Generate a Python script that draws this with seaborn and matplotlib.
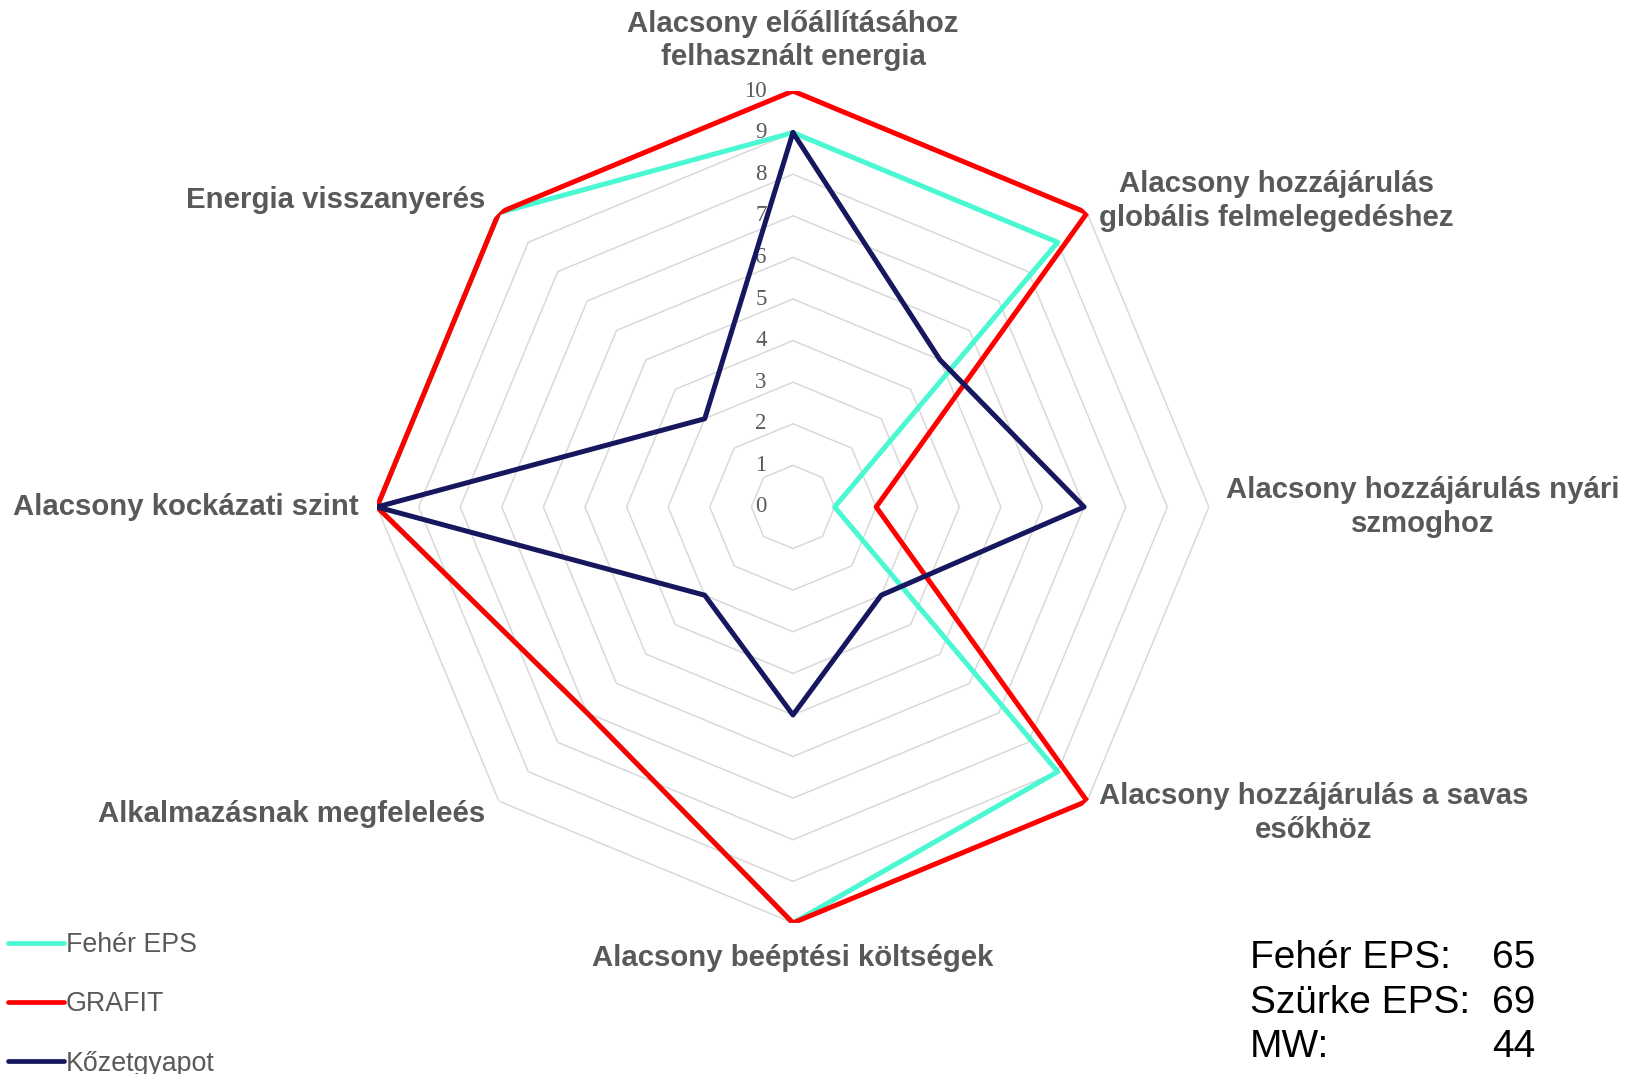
import numpy as np
import pandas as pd
import matplotlib

matplotlib.use("Agg")
import matplotlib.pyplot as plt
import seaborn as sns


CATEGORIES = [
    "Alacsony előállításához\nfelhasznált energia",
    "Alacsony hozzájárulás\nglobális felmelegedéshez",
    "Alacsony hozzájárulás nyári\nszmoghoz",
    "Alacsony hozzájárulás a savas\nesőkhöz",
    "Alacsony beéptési költségek",
    "Alkalmazásnak megfeleleés",
    "Alacsony kockázati szint",
    "Energia visszanyerés",
]
SERIES = ["Fehér EPS", "GRAFIT", "Kőzetgyapot"]
FEHER_EPS = [9, 9, 1, 9, 10, 7, 10, 10]
GRAFIT = [10, 10, 2, 10, 10, 7, 10, 10]
KOZETGYAPOT = [9, 5, 7, 3, 5, 3, 10, 3]
RING_LEVELS = list(range(0, 11))
SCORE_LABELS = ["Fehér EPS:", "Szürke EPS:", "MW:"]
SCORE_VALUES = [65, 69, 44]

COLORS = {"Fehér EPS": "#4AF8D2", "GRAFIT": "#FF0000", "Kőzetgyapot": "#16175E"}
TEXT_GRAY = "#595959"
GRID_GRAY = "#D9D9D9"

# label placement per axis: (radius, ha, va)
LABEL_PLACEMENT = [
    (10.48, "center", "bottom"),
    (10.4, "left", "center"),
    (10.4, "left", "center"),
    (10.4, "left", "center"),
    (10.5, "center", "top"),
    (10.45, "right", "center"),
    (10.45, "right", "center"),
    (10.45, "right", "center"),
]


def build_frame() -> pd.DataFrame:
    n = len(CATEGORIES)
    angles = np.linspace(0, 2 * np.pi, n, endpoint=False)
    angles = np.append(angles, 2 * np.pi)
    rows = []
    for name, values in zip(SERIES, [FEHER_EPS, GRAFIT, KOZETGYAPOT]):
        closed = list(values) + [values[0]]
        for order, (theta, value) in enumerate(zip(angles, closed)):
            rows.append({"series": name, "order": order, "theta": theta, "value": value})
    return pd.DataFrame(rows)


def main() -> None:
    sns.set_theme(style="white")
    plt.rcParams["font.family"] = ["Liberation Sans", "DejaVu Sans"]

    fig = plt.figure(figsize=(16.37, 10.74), dpi=100)
    ax = fig.add_axes([0.2303, 0.1406, 0.5082, 0.7747], projection="polar")
    ax.set_theta_zero_location("N")
    ax.set_theta_direction(-1)
    ax.set_ylim(0, 10)
    ax.grid(False)
    ax.spines["polar"].set_visible(False)
    ax.set_xticks([])
    ax.set_yticks([])
    ax.set_facecolor("none")

    n = len(CATEGORIES)
    angles = np.linspace(0, 2 * np.pi, n, endpoint=False)
    ring_angles = np.append(angles, 2 * np.pi)

    # octagonal grid rings
    for level in RING_LEVELS[1:]:
        ax.plot(ring_angles, [level] * len(ring_angles), color=GRID_GRAY, lw=1.1, zorder=1)

    for level in RING_LEVELS:
        ax.annotate(
            str(level),
            xy=(0, level),
            xytext=(-19, 0),
            textcoords="offset points",
            ha="right",
            va="center",
            fontsize=16.5,
            color=TEXT_GRAY,
            family=["Liberation Serif", "DejaVu Serif"],
            zorder=2,
        )

    df = build_frame()
    sns.lineplot(
        data=df,
        x="theta",
        y="value",
        hue="series",
        hue_order=SERIES,
        palette=COLORS,
        sort=False,
        estimator=None,
        linewidth=3.6,
        ax=ax,
        zorder=3,
    )
    handles, labels = ax.get_legend_handles_labels()
    if ax.get_legend() is not None:
        ax.get_legend().remove()
    ax.set_xlabel("")
    ax.set_ylabel("")

    for theta, label, (radius, ha, va) in zip(angles, CATEGORIES, LABEL_PLACEMENT):
        ax.text(
            theta,
            radius,
            label,
            ha=ha,
            va=va,
            multialignment="center",
            fontsize=21.2,
            fontweight="bold",
            color=TEXT_GRAY,
            linespacing=1.25,
        )

    legend = fig.legend(
        handles,
        labels,
        loc="upper left",
        bbox_to_anchor=(0.005, 0.132),
        frameon=False,
        fontsize=19.3,
        handlelength=2.1,
        handletextpad=0.06,
        labelspacing=1.24,
        borderpad=0,
        borderaxespad=0,
    )
    for text in legend.get_texts():
        text.set_color(TEXT_GRAY)
    for line in legend.get_lines():
        line.set_linewidth(3.4)
        line.set_solid_capstyle("round")

    row_y = [1 - 958 / 1074, 1 - 1003 / 1074, 1 - 1047 / 1074]
    for y, label, value in zip(row_y, SCORE_LABELS, SCORE_VALUES):
        fig.text(1250 / 1637, y, label, ha="left", va="center", fontsize=28, color="black")
        fig.text(1535 / 1637, y, str(value), ha="right", va="center", fontsize=28, color="black")

    fig.savefig("out.png", dpi=100)
    plt.close(fig)


if __name__ == "__main__":
    main()
